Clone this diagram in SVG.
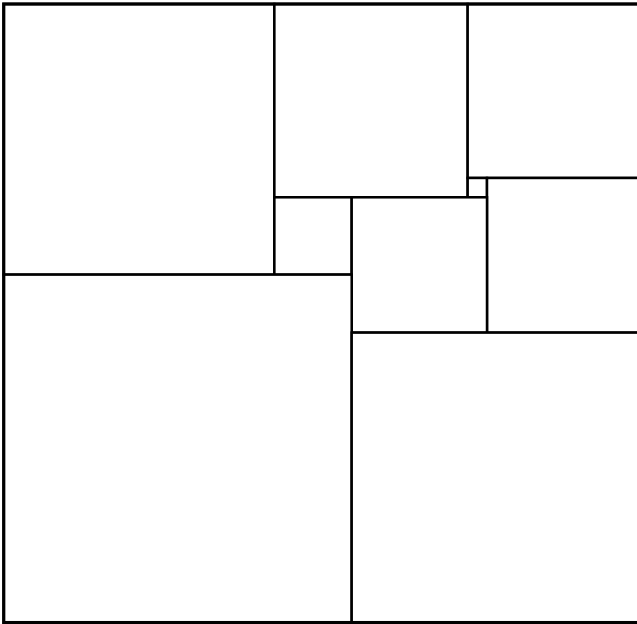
<svg xmlns="http://www.w3.org/2000/svg" width="637" height="624" viewBox="0 0 637 624">
  <style>
    .sq { fill: #ffffff; stroke: #000000; stroke-width: 2.5; }
    .outer { fill: none; stroke: #000000; stroke-width: 3.2; }
  </style>
  <rect x="0" y="0" width="637" height="624" fill="#ffffff"/>
  <g id="sq14"><rect class="sq" x="3.75" y="4" width="270.62" height="270.62"/></g>
  <g id="sq10"><rect class="sq" x="274.37" y="4" width="193.3" height="193.3"/></g>
  <g id="sq9"><rect class="sq" x="467.67" y="4" width="173.97" height="173.97"/></g>
  <g id="sq1"><rect class="sq" x="467.67" y="177.97" width="19.33" height="19.33"/></g>
  <g id="sq8"><rect class="sq" x="487.0" y="177.97" width="154.64" height="154.64"/></g>
  <g id="sq4"><rect class="sq" x="274.37" y="197.3" width="77.32" height="77.32"/></g>
  <g id="sq7"><rect class="sq" x="351.69" y="197.3" width="135.31" height="135.31"/></g>
  <g id="sq18"><rect class="sq" x="3.75" y="274.62" width="347.94" height="347.94"/></g>
  <g id="sq15"><rect class="sq" x="351.69" y="332.61" width="289.95" height="289.95"/></g>
  <g id="connectors"></g>
  <rect class="outer" x="3.75" y="4" width="637.89" height="618.56"/>
</svg>
